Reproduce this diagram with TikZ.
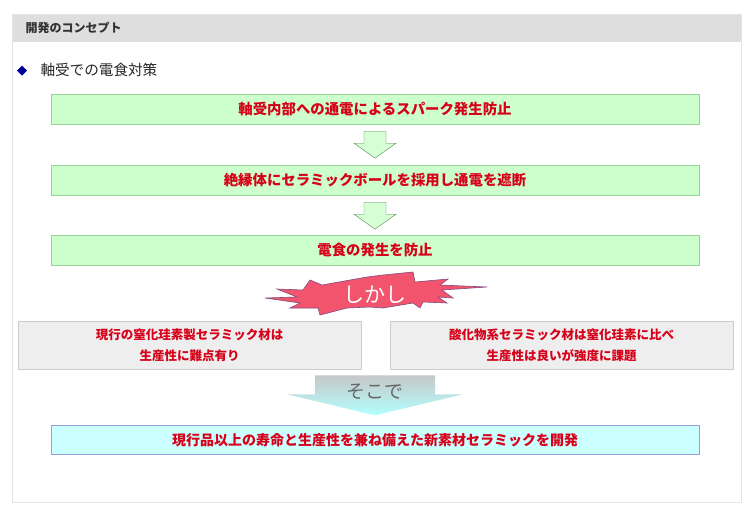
\documentclass[tikz,border=0pt]{standalone}
\usepackage{fontspec}
\setmainfont{Noto Sans CJK JP}
\usetikzlibrary{calc}
\definecolor{txtred}{RGB}{214,0,24}
\definecolor{boxgreen}{RGB}{204,255,204}
\definecolor{linegreen}{RGB}{153,210,153}
\definecolor{boxcyan}{RGB}{204,255,255}
\definecolor{linelav}{RGB}{153,153,221}
\definecolor{boxgray}{RGB}{238,238,238}
\definecolor{burstred}{RGB}{242,84,110}

\tikzset{
  greenbox/.style={draw=linegreen, fill=boxgreen, minimum width=648pt, minimum height=30pt, inner sep=0pt,
    text=txtred, font=\fontsize{14.4}{16}\selectfont\bfseries},
  graybox/.style={draw=black!20, fill=boxgray, minimum width=343pt, minimum height=48pt, inner sep=0pt,
    text=txtred, align=center, font=\fontsize{12.5}{21}\selectfont\bfseries},
  garrow/.style={draw=black!40!green!30!gray, fill=boxgreen!80!white}
}
\newcommand{\greenarrow}[1]{\draw[garrow,shift={(#1)}] (-11,0) -- (11,0) -- (11,12) -- (21,12) -- (0,27) -- (-21,12) -- (-11,12) -- cycle;}

\begin{document}
\begin{tikzpicture}[x=1pt,y=-1pt]
\useasboundingbox (0,0) rectangle (750,515);
% panel and header
\draw[black!10, fill=white] (12,14) rectangle (741,502);
\fill[black!13] (12.5,14.5) rectangle (740.5,42);
\node[anchor=west, text=black!80, font=\fontsize{12}{14}\selectfont\bfseries] (title) at (22,28) {開発のコンセプト};
\fill[blue!60!black] (22,65.5) -- (27,70.5) -- (22,75.5) -- (17,70.5) -- cycle;
\node[anchor=west, text=black!85, font=\fontsize{14.6}{16}\selectfont] (topic) at (37,70) {軸受での電食対策};

% flow
\node[greenbox] (step1) at (375,109) {軸受内部への通電によるスパーク発生防止};
\node[greenbox] (step2) at (375,180) {絶縁体にセラミックボールを採用し通電を遮断};
\node[greenbox] (step3) at (375,250) {電食の発生を防止};
\coordinate (a1) at ($(step1.south)+(0,7)$);
\coordinate (a2) at ($(step2.south)+(0,7)$);
\greenarrow{a1}
\greenarrow{a2}

% burst
\draw[burstred, fill=burstred, draw=violet!40!gray, line width=0.6pt, shift={(375,295)}]
  (-65,-15) -- (-53,-10) -- (-8,-18) -- (8,-20) -- (38,-23) -- (40,-13) -- (73,-16) -- (65,-10)
  -- (112,-8) -- (67,-5) -- (78,3) -- (63,2) -- (72,8) -- (48,7) -- (45,13) -- (38,8) -- (8,13)
  -- (-5,12) -- (-28,13) -- (-55,20) -- (-57,13) -- (-85,13) -- (-75,8) -- (-110,3) -- (-78,2)
  -- (-98,-6) -- (-72,-5) -- cycle;
\node[text=white, font=\fontsize{21}{24}\selectfont] (but) at (375,295) {しかし};

% problems
\node[graybox] (left) at (189.5,345) {現行の窒化珪素製セラミック材は\\生産性に難点有り};
\node[graybox] (right) at (561.5,345) {酸化物系セラミック材は窒化珪素に比べ\\生産性は良いが強度に課題};

% result
\node[draw=linelav, fill=boxcyan, minimum width=648pt, minimum height=29pt, inner sep=0pt,
  text=txtred, font=\fontsize{14}{16}\selectfont\bfseries] (goal) at (375,440)
  {現行品以上の寿命と生産性を兼ね備えた新素材セラミックを開発};
\coordinate (a3) at ($(goal.north)+(0,-28)$);
\shade[top color=black!22, bottom color=cyan!30, shift={(a3)}]
  (-60,-22) -- (60,-22) -- (60,-3) -- (88,-3) -- (0,18) -- (-88,-3) -- (-60,-3) -- cycle;
\node[text=black!60, font=\fontsize{19}{22}\selectfont] (then) at (375,392) {そこで};
\end{tikzpicture}
\end{document}
